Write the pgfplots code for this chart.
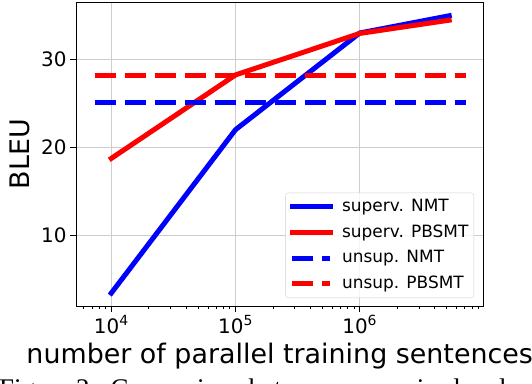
\documentclass[border=0pt]{standalone}
\usepackage{fontspec}
\setmainfont{DejaVu Sans}
\newfontfamily\capfont{Liberation Serif}
\usepackage{pgfplots}
\pgfplotsset{compat=1.18}
\definecolor{gridgray}{RGB}{205,205,205}
\definecolor{legframe}{RGB}{210,210,210}

\begin{document}
\begin{tikzpicture}
\begin{axis}[
    at={(76bp,78bp)}, anchor=south west,
    scale only axis, width=407.4bp, height=303.3bp,
    xmode=log, log basis x=10,
    xmin=5200, xmax=9.9e6,
    ymin=2.04, ymax=36.38,
    xtick={1e4,1e5,1e6},
    xticklabels={10\textsuperscript{4},10\textsuperscript{5},10\textsuperscript{6}},
    minor xtick={6e3,7e3,8e3,9e3,2e4,3e4,4e4,5e4,6e4,7e4,8e4,9e4,
                 2e5,3e5,4e5,5e5,6e5,7e5,8e5,9e5,2e6,3e6,4e6,5e6,6e6,7e6,8e6,9e6},
    ytick={10,20,30},
    /pgf/number format/assume math mode=true,
    tick label style={font=\fontsize{20}{20}\selectfont},
    tick align=outside, tick pos=left,
    major tick length=6bp, minor tick length=3.5bp,
    every tick/.style={black, line width=0.8bp},
    grid=major, grid style={gridgray, line width=1bp},
    axis line style={black, line width=0.8bp},
    xlabel={number of parallel training sentences},
    ylabel={BLEU},
    label style={font=\fontsize{27}{27}\selectfont},
    xlabel style={at={(axis description cs:0.5,-0.188)}, anchor=base},
    ylabel style={at={(axis description cs:-0.138,0.5)}, anchor=center, rotate=0},
    legend style={at={(rel axis cs:0.977,0.026)}, anchor=south east,
        draw=legframe, rounded corners=3bp, fill=white, fill opacity=0.8,
        text opacity=1, font=\fontsize{17}{17}\selectfont,
        inner xsep=4bp, inner ysep=4bp, row sep=5.7bp,
        nodes={inner sep=1.5bp, text height=13bp, text depth=4bp},
        /tikz/every odd column/.append style={column sep=8bp}},
    legend cell align=left,
    legend image code/.code={\draw[#1] (0bp,0bp) -- (38bp,0bp);},
]
\addplot[blue, line width=5bp, line cap=rect] coordinates {(1e4,3.5) (1e5,22.0) (1e6,32.95) (5.25e6,34.9)};
\addplot[red, line width=5bp, line cap=rect] coordinates {(1e4,18.75) (1e5,28.2) (1e6,32.9) (5.25e6,34.4)};
\addplot[blue, line width=5bp, dash pattern=on 21bp off 9bp] coordinates {(7345,25.1) (7.14e6,25.1)};
\addplot[red, line width=5bp, dash pattern=on 21bp off 9bp] coordinates {(7345,28.15) (7.14e6,28.15)};
\legend{superv. NMT, superv. PBSMT, unsup. NMT, unsup. PBSMT}
\end{axis}
\node[anchor=base west, inner sep=0pt, font=\capfont\fontsize{27}{27}\selectfont] at (-1bp,-13bp)
    {Figure 2:\enspace Comparison between supervised and unsupervised};
\pgfresetboundingbox
\useasboundingbox (0,0) rectangle (532bp,384bp);
\end{tikzpicture}
\end{document}
